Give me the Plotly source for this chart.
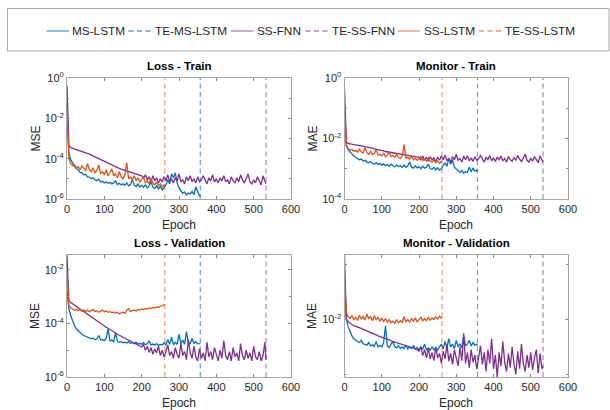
import plotly.graph_objects as go

# ---------------- data (log10 of metric values) ----------------
TE_MS_LSTM = 357
TE_SS_FNN = 533
TE_SS_LSTM = 262

ep_ms = list(range(0, TE_MS_LSTM, 5)) + [TE_MS_LSTM]
ep_fnn = list(range(0, TE_SS_FNN, 5)) + [TE_SS_FNN]
ep_lstm = list(range(0, TE_SS_LSTM, 5)) + [TE_SS_LSTM]

# Loss - Train (MSE)
lt_ms = [-1.60, -3.70, -4.05, -4.25, -4.38, -4.50, -4.55, -4.68, -4.70, -4.80, -4.78, -4.90, -4.92, -4.98, -4.95,
         -5.05, -5.08, -5.02, -5.15, -5.12, -5.20, -5.15, -5.22, -5.18, -5.25, -5.20, -5.10, -5.28, -5.22, -5.30,
         -5.25, -5.32, -5.20, -5.35, -5.28, -5.05, -5.30, -5.38, -5.25, -5.40, -5.32, -5.42, -5.30, -5.45, -5.35,
         -5.15, -5.40, -5.48, -5.35, -5.50, -5.38, -5.55, -5.42, -5.30, -5.05, -5.25, -4.75, -4.95, -4.70, -5.20,
         -5.45, -5.60, -5.72, -5.65, -5.80, -5.70, -5.75, -5.62, -5.78, -5.40, -5.65, -5.85, -5.80]
lt_lstm = [-1.50, -4.00, -4.25, -4.35, -4.30, -4.45, -4.40, -4.55, -4.35, -4.50, -4.60, -4.25, -4.55, -4.65, -4.45,
           -4.70, -4.60, -4.30, -4.75, -4.65, -4.80, -4.55, -4.85, -4.70, -4.50, -4.85, -4.75, -4.95, -4.65, -4.90,
           -5.00, -4.80, -4.20, -5.00, -4.90, -5.05, -4.85, -5.10, -4.95, -5.15, -5.05, -4.90, -5.20, -5.10, -5.25,
           -5.00, -5.20, -5.30, -5.15, -5.35, -5.25, -5.40, -5.30, -5.35]
lt_fnn = [-0.40, -3.35, -3.45, -3.50, -3.52, -3.55, -3.58, -3.60, -3.63, -3.66, -3.70, -3.74, -3.78, -3.82, -3.86,
          -3.90, -3.95, -3.99, -4.03, -4.07, -4.12, -4.17, -4.22, -4.27, -4.31, -4.36, -4.40, -4.44, -4.48, -4.52,
          -4.55, -4.58, -4.61, -4.64, -4.67, -4.70, -4.72, -4.75, -4.78, -4.80, -4.85, -4.95, -4.80, -5.05, -4.90,
          -5.15, -4.85, -5.10, -4.95, -5.20, -5.00, -5.15, -4.90, -5.10, -4.80, -5.15, -5.00, -5.20, -4.95, -5.10,
          -4.75, -5.15, -5.05, -5.25, -4.90, -5.10, -4.85, -5.15, -5.00, -5.20, -4.90, -5.15, -5.05, -4.85, -5.10,
          -5.25, -4.95, -5.10, -4.80, -5.15, -5.00, -5.20, -4.95, -5.10, -4.85, -5.15, -5.05, -5.25, -4.90, -5.10,
          -5.20, -4.95, -5.15, -4.80, -5.05, -5.20, -5.00, -4.75, -5.15, -5.25, -5.05, -5.20, -4.90, -5.15, -5.30,
          -4.85, -5.10, -5.25]

# Monitor - Train (MAE)
mt_ms = [-1.00, -2.25, -2.38, -2.45, -2.52, -2.58, -2.62, -2.66, -2.70, -2.68, -2.74, -2.72, -2.78, -2.80, -2.76,
         -2.82, -2.85, -2.80, -2.86, -2.83, -2.88, -2.84, -2.90, -2.86, -2.92, -2.85, -2.90, -2.94, -2.87, -2.93,
         -2.90, -2.96, -2.88, -2.95, -2.90, -2.78, -2.95, -2.98, -2.90, -2.97, -2.93, -3.00, -2.92, -2.98, -2.95,
         -2.85, -3.00, -3.02, -2.95, -3.04, -2.97, -3.05, -3.00, -2.90, -2.80, -2.92, -2.65, -2.85, -2.70, -2.95,
         -3.00, -3.08, -3.12, -3.05, -3.15, -3.10, -3.12, -2.95, -3.10, -2.98, -3.08, -3.05, -3.10]
mt_lstm = [-0.93, -2.22, -2.35, -2.38, -2.36, -2.42, -2.40, -2.45, -2.35, -2.44, -2.48, -2.30, -2.47, -2.52, -2.42,
           -2.53, -2.50, -2.36, -2.55, -2.52, -2.58, -2.48, -2.60, -2.55, -2.45, -2.60, -2.56, -2.63, -2.52, -2.62,
           -2.66, -2.58, -2.20, -2.65, -2.62, -2.68, -2.60, -2.70, -2.65, -2.72, -2.68, -2.60, -2.73, -2.68, -2.75,
           -2.64, -2.74, -2.78, -2.70, -2.80, -2.74, -2.82, -2.76, -2.78]
mt_fnn = [-0.35, -2.12, -2.16, -2.18, -2.19, -2.20, -2.21, -2.22, -2.23, -2.24, -2.25, -2.26, -2.28, -2.29, -2.31,
          -2.32, -2.34, -2.35, -2.37, -2.38, -2.40, -2.41, -2.43, -2.44, -2.46, -2.47, -2.48, -2.49, -2.50, -2.51,
          -2.52, -2.53, -2.54, -2.55, -2.56, -2.57, -2.58, -2.58, -2.59, -2.60, -2.62, -2.70, -2.58, -2.72, -2.62,
          -2.75, -2.60, -2.70, -2.64, -2.76, -2.62, -2.72, -2.58, -2.70, -2.55, -2.74, -2.65, -2.78, -2.60, -2.70,
          -2.52, -2.72, -2.66, -2.78, -2.58, -2.70, -2.57, -2.74, -2.64, -2.76, -2.60, -2.72, -2.66, -2.56, -2.70,
          -2.78, -2.62, -2.70, -2.56, -2.74, -2.64, -2.76, -2.62, -2.70, -2.58, -2.74, -2.66, -2.78, -2.60, -2.70,
          -2.75, -2.63, -2.72, -2.56, -2.68, -2.76, -2.65, -2.52, -2.72, -2.78, -2.66, -2.74, -2.60, -2.72, -2.80,
          -2.58, -2.70, -2.78]

# Loss - Validation (MSE)
lv_ms = [-2.80, -3.45, -3.70, -3.92, -4.08, -4.20, -4.28, -4.35, -4.40, -4.45, -4.48, -4.52, -4.55, -4.57, -4.55,
         -4.60, -4.58, -4.45, -4.62, -4.60, -4.64, -4.55, -4.20, -4.65, -4.62, -4.68, -4.35, -4.66, -4.70, -4.68,
         -4.72, -4.70, -4.73, -4.68, -4.74, -4.72, -4.76, -4.70, -4.77, -4.74, -4.78, -4.72, -4.79, -4.76, -4.65,
         -4.80, -4.77, -4.81, -4.75, -4.82, -4.78, -4.80, -4.72, -4.80, -4.60, -4.78, -4.50, -4.80, -4.70, -4.78,
         -4.40, -4.76, -4.62, -4.78, -4.30, -4.72, -4.76, -4.55, -4.74, -4.68, -4.76, -4.74, -4.75]
lv_lstm = [-2.13, -3.30, -3.42, -3.45, -3.50, -3.47, -3.52, -3.48, -3.54, -3.50, -3.55, -3.50, -3.56, -3.52, -3.48,
           -3.55, -3.52, -3.58, -3.54, -3.50, -3.56, -3.53, -3.58, -3.55, -3.60, -3.57, -3.62, -3.58, -3.64, -3.60,
           -3.58, -3.62, -3.50, -3.45, -3.55, -3.52, -3.50, -3.53, -3.48, -3.50, -3.46, -3.48, -3.44, -3.46, -3.42,
           -3.44, -3.40, -3.42, -3.38, -3.40, -3.35, -3.34, -3.30, -3.32]
lv_fnn = [-1.45, -3.15, -3.22, -3.27, -3.30, -3.35, -3.40, -3.45, -3.50, -3.55, -3.60, -3.65, -3.70, -3.75, -3.80,
          -3.85, -3.90, -3.95, -4.00, -4.04, -4.09, -4.14, -4.18, -4.23, -4.27, -4.32, -4.36, -4.40, -4.44, -4.48,
          -4.52, -4.56, -4.59, -4.63, -4.66, -4.70, -4.73, -4.76, -4.80, -4.82, -4.88, -4.80, -5.00, -4.85, -5.08,
          -4.90, -5.15, -4.95, -5.10, -4.85, -5.20, -5.00, -5.25, -5.05, -4.80, -5.20, -5.05, -5.30, -4.90, -5.15,
          -5.30, -4.75, -5.20, -5.05, -5.35, -4.60, -5.10, -5.30, -4.85, -5.25, -5.40, -4.95, -5.30, -5.10, -5.40,
          -4.70, -5.25, -5.05, -5.35, -4.90, -5.20, -5.40, -5.00, -5.30, -4.65, -5.20, -5.35, -5.05, -5.40, -4.90,
          -5.25, -5.10, -5.40, -4.75, -5.20, -5.35, -5.00, -5.30, -5.10, -5.40, -4.85, -5.25, -5.35, -5.05, -5.40,
          -5.20, -4.70, -5.35]

# Monitor - Validation (MAE)
mv_ms = [-1.35, -2.00, -2.13, -2.22, -2.30, -2.35, -2.38, -2.40, -2.42, -2.38, -2.44, -2.45, -2.47, -2.42, -2.48,
         -2.46, -2.49, -2.40, -2.50, -2.47, -2.50, -2.42, -2.12, -2.48, -2.51, -2.45, -2.40, -2.50, -2.52, -2.48,
         -2.53, -2.50, -2.53, -2.47, -2.54, -2.50, -2.53, -2.48, -2.54, -2.51, -2.55, -2.50, -2.54, -2.45, -2.55,
         -2.52, -2.56, -2.50, -2.55, -2.52, -2.56, -2.50, -2.45, -2.54, -2.40, -2.52, -2.35, -2.50, -2.45, -2.53,
         -2.38, -2.50, -2.44, -2.52, -2.30, -2.48, -2.45, -2.38, -2.48, -2.42, -2.47, -2.45, -2.47]
mv_lstm = [-1.25, -1.88, -1.95, -1.98, -1.93, -2.00, -1.96, -2.02, -1.92, -1.99, -1.94, -2.01, -1.90, -1.98, -1.95,
           -2.02, -1.93, -2.00, -1.96, -2.03, -1.97, -2.04, -1.98, -2.05, -2.00, -2.06, -2.03, -2.07, -2.00, -2.06,
           -2.02, -2.05, -1.95, -2.04, -2.00, -2.05, -1.98, -2.03, -1.97, -2.04, -2.00, -1.95, -2.03, -1.98, -2.02,
           -1.96, -2.01, -1.97, -2.00, -1.95, -1.99, -1.94, -1.97, -1.96]
mv_fnn = [-0.83, -1.98, -2.04, -2.07, -2.09, -2.11, -2.12, -2.14, -2.15, -2.16, -2.18, -2.19, -2.21, -2.22, -2.24,
          -2.25, -2.27, -2.28, -2.30, -2.31, -2.32, -2.34, -2.35, -2.36, -2.37, -2.39, -2.40, -2.41, -2.42, -2.43,
          -2.44, -2.45, -2.47, -2.48, -2.49, -2.50, -2.51, -2.52, -2.54, -2.55, -2.58, -2.50, -2.66, -2.55, -2.70,
          -2.52, -2.72, -2.60, -2.75, -2.50, -2.70, -2.62, -2.80, -2.58, -2.72, -2.45, -2.76, -2.62, -2.82, -2.55,
          -2.70, -2.85, -2.50, -2.75, -2.25, -2.80, -2.60, -2.88, -2.55, -2.78, -2.65, -2.90, -2.70, -2.48, -2.82,
          -2.60, -2.95, -2.55, -2.80, -2.35, -2.90, -2.65, -3.05, -2.60, -2.85, -2.40, -2.78, -2.95, -2.62, -2.88,
          -2.50, -2.82, -3.00, -2.58, -2.90, -2.45, -2.80, -2.95, -2.65, -2.88, -2.60, -2.92, -2.70, -2.55, -2.98,
          -2.62, -2.90, -2.85]

legend_names = ["MS-LSTM", "TE-MS-LSTM", "SS-FNN", "TE-SS-FNN", "SS-LSTM", "TE-SS-LSTM"]
x_ticks = [0, 100, 200, 300, 400, 500, 600]

panels = [
    # title, ylabel, (ms, fnn, lstm), y log range, major tick exponents, minor tick exponents
    ("Loss - Train", "MSE", (lt_ms, lt_fnn, lt_lstm), (-6, 0), [-6, -4, -2, 0], [-5, -3, -1]),
    ("Monitor - Train", "MAE", (mt_ms, mt_fnn, mt_lstm), (-4, 0), [-4, -2, 0], [-3, -1]),
    ("Loss - Validation", "MSE", (lv_ms, lv_fnn, lv_lstm), (-6, -1.44), [-6, -4, -2], [-5, -3]),
    ("Monitor - Validation", "MAE", (mv_ms, mv_fnn, mv_lstm), (-3.05, -0.82), [-2], [-3, -1]),
]

# ---------------- layout geometry (pixels) ----------------
W, H = 610, 410
xdoms = [(67, 291), (344.5, 568), (67, 291), (344.5, 568)]
ydoms = [(78, 199), (78, 199), (255, 377), (255, 377)]
ylab_x = [35, 312, 35, 312]

C_MS = "#0072BD"
C_FNN = "#7E2F8E"
C_LSTM = "#D95319"
C_MS_TE = "rgba(0,114,189,0.65)"
C_FNN_TE = "rgba(126,47,142,0.6)"
C_LSTM_TE = "rgba(217,83,25,0.6)"
DASH = "5px,3.5px"

FONT = "Liberation Sans, Arial, Helvetica, sans-serif"
fig = go.Figure()
layout = dict(
    width=W, height=H, margin=dict(l=0, r=0, t=0, b=0, autoexpand=False),
    paper_bgcolor="white", plot_bgcolor="white",
    font=dict(family=FONT, size=11, color="#262626"),
    showlegend=False,
)
annotations = []
shapes = []

for i, (title, ylab, (s_ms, s_fnn, s_lstm), yr, maj, mnr) in enumerate(panels):
    k = "" if i == 0 else str(i + 1)
    xa, ya = "x" + k, "y" + k
    lo, hi = 10 ** yr[0], 10 ** yr[1]
    traces = [
        (legend_names[0], ep_ms, [10 ** v for v in s_ms], C_MS, "solid"),
        (legend_names[1], [TE_MS_LSTM, TE_MS_LSTM], [lo, hi], C_MS_TE, "dash"),
        (legend_names[2], ep_fnn, [10 ** v for v in s_fnn], C_FNN, "solid"),
        (legend_names[3], [TE_SS_FNN, TE_SS_FNN], [lo, hi], C_FNN_TE, "dash"),
        (legend_names[4], ep_lstm, [10 ** v for v in s_lstm], C_LSTM, "solid"),
        (legend_names[5], [TE_SS_LSTM, TE_SS_LSTM], [lo, hi], C_LSTM_TE, "dash"),
    ]
    for name, xs, ys, col, dash in traces:
        fig.add_trace(go.Scatter(
            x=xs, y=ys, mode="lines", name=name, xaxis=xa, yaxis=ya,
            line=dict(color=col, width=1.3 if dash == "solid" else 1.2, dash=DASH if dash == "dash" else None),
            hoverinfo="skip"))
    x0, x1 = xdoms[i]
    y0, y1 = ydoms[i]
    layout["xaxis" + k] = dict(
        domain=[x0 / W, x1 / W], anchor=ya, range=[0, 600], automargin=False,
        tickvals=x_ticks, ticks="inside", ticklen=3, tickcolor="#888",
        showline=True, linecolor="#a6a6a6", linewidth=1, mirror="ticks", showgrid=False, zeroline=False,
        tickfont=dict(size=11, color="#262626"),
    )
    layout["yaxis" + k] = dict(
        domain=[1 - y1 / H, 1 - y0 / H], anchor=xa, type="log", range=list(yr), automargin=False,
        tickvals=[10 ** e for e in maj], ticktext=["10<sup>%d</sup>" % e for e in maj],
        ticks="inside", ticklen=3, tickcolor="#888",
        minor=dict(tickvals=[10 ** e for e in mnr], ticks="inside", ticklen=2, tickcolor="#888"),
        showline=True, linecolor="#a6a6a6", linewidth=1, mirror="ticks", showgrid=False, zeroline=False,
        tickfont=dict(size=11, color="#262626"),
    )
    # panel title
    annotations.append(dict(
        text="<b>%s</b>" % title, x=(x0 + x1) / 2 / W, y=1 - (y0 - 12) / H, xref="paper", yref="paper",
        showarrow=False, font=dict(size=11.5, color="#000000"), xanchor="center", yanchor="middle"))
    # y label
    annotations.append(dict(
        text=ylab, x=ylab_x[i] / W, y=1 - (y0 + y1) / 2 / H, xref="paper", yref="paper", textangle=-90,
        showarrow=False, font=dict(size=12, color="#262626"), xanchor="center", yanchor="middle"))
    # x label
    annotations.append(dict(
        text="Epoch", x=(x0 + x1) / 2 / W, y=1 - (y1 + 26) / H, xref="paper", yref="paper",
        showarrow=False, font=dict(size=12, color="#262626"), xanchor="center", yanchor="middle"))

# ---------------- legend (drawn as line samples + text) ----------------
LEG_Y = 31
leg_line_x = [46.5, 128.5, 231, 305.5, 397.5, 479]
leg_text_x = [70, 153, 255, 330, 422, 503]
leg_dash = ["solid", DASH, "solid", DASH, "solid", DASH]
leg_cols_soft = ["rgba(0,114,189,0.7)", C_MS_TE, "rgba(126,47,142,0.65)", C_FNN_TE, "rgba(217,83,25,0.65)", C_LSTM_TE]
for name, lx, tx, col, dsh in zip(legend_names, leg_line_x, leg_text_x, leg_cols_soft, leg_dash):
    shapes.append(dict(type="line", xref="paper", yref="paper", x0=lx / W, x1=(lx + 22.5) / W,
                       y0=1 - LEG_Y / H, y1=1 - LEG_Y / H, line=dict(color=col, width=1.3, dash=dsh)))
    annotations.append(dict(text=name, x=tx / W, y=1 - (LEG_Y + 0.5) / H, xref="paper", yref="paper",
                            showarrow=False, xanchor="left", yanchor="middle",
                            font=dict(size=11.8, color="#262626")))

shapes.append(dict(type="rect", xref="paper", yref="paper", x0=7.5 / W, x1=609 / W, y0=1 - 51 / H, y1=1 - 8.5 / H,
                   line=dict(color="#aaaaaa", width=1), fillcolor="rgba(0,0,0,0)", layer="below"))

layout["annotations"] = annotations
layout["shapes"] = shapes
fig.update_layout(**layout)
fig.write_html("out.html", config={"displayModeBar": False, "staticPlot": True},
               post_script="document.body.style.margin='0px';document.body.style.overflow='hidden';")
